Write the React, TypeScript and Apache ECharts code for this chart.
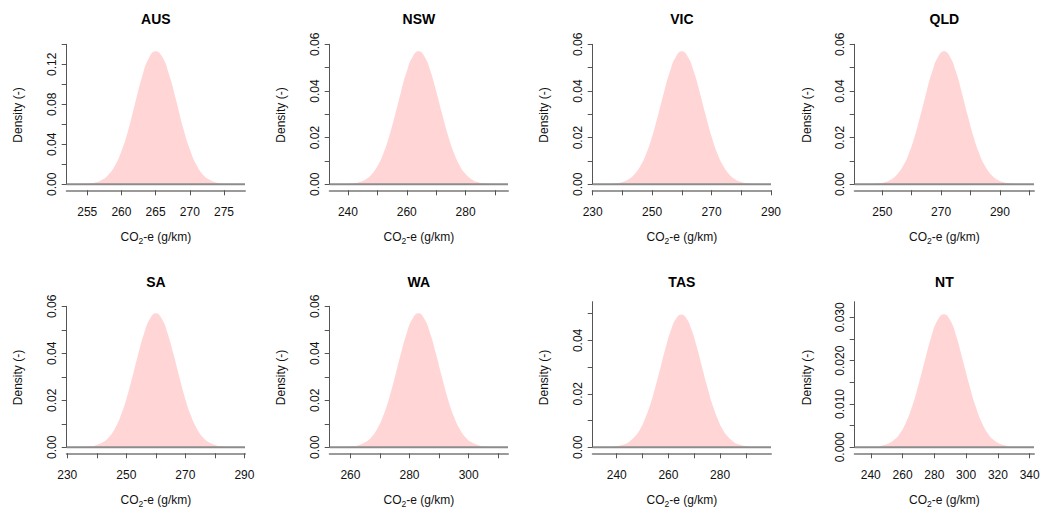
import React, { useEffect, useRef } from "react";
import * as echarts from "echarts";

// ---------- data ----------
const regions = ["AUS", "NSW", "VIC", "QLD", "SA", "WA", "TAS", "NT"];

const ausX = [252, 254, 255, 256, 257, 258, 259, 260, 261, 262, 263, 264, 265, 266, 267, 268, 269, 270, 271, 272, 273, 274, 275, 276, 278];
const ausY = [0, 0.0002, 0.0005, 0.0015, 0.0038, 0.0088, 0.018, 0.033, 0.054, 0.081, 0.107, 0.126, 0.133, 0.127, 0.109, 0.084, 0.057, 0.035, 0.019, 0.009, 0.004, 0.0015, 0.0005, 0.0002, 0];

const nswX = [240, 242, 244, 246, 248, 250, 252, 254, 256, 258, 260, 262, 264, 266, 268, 270, 272, 274, 276, 278, 280, 282, 284, 286, 288];
const nswY = [0.0002, 0.0004, 0.001, 0.0021, 0.0042, 0.0077, 0.0131, 0.0205, 0.0297, 0.0395, 0.0484, 0.0547, 0.057, 0.0548, 0.0487, 0.0399, 0.0302, 0.021, 0.0135, 0.008, 0.0044, 0.0022, 0.001, 0.0004, 0.0002];

const vicX = [236, 238, 240, 242, 244, 246, 248, 250, 252, 254, 256, 258, 260, 262, 264, 266, 268, 270, 272, 274, 276, 278, 280, 282, 284];
const vicY = [0.0002, 0.0004, 0.001, 0.0021, 0.0042, 0.0077, 0.0131, 0.0205, 0.0297, 0.0395, 0.0484, 0.0547, 0.057, 0.0547, 0.0484, 0.0395, 0.0297, 0.0205, 0.0131, 0.0077, 0.0042, 0.0021, 0.001, 0.0004, 0.0002];

const qldX = [247, 249, 251, 253, 255, 257, 259, 261, 263, 265, 267, 269, 271, 273, 275, 277, 279, 281, 283, 285, 287, 289, 291, 293, 295];
const qldY = [0.0002, 0.0004, 0.001, 0.0021, 0.0042, 0.0077, 0.0131, 0.0205, 0.0297, 0.0395, 0.0484, 0.0547, 0.057, 0.0547, 0.0484, 0.0395, 0.0297, 0.0205, 0.0131, 0.0077, 0.0042, 0.0021, 0.001, 0.0004, 0.0002];

const saX = [236, 238, 240, 242, 244, 246, 248, 250, 252, 254, 256, 258, 260, 262, 264, 266, 268, 270, 272, 274, 276, 278, 280, 282, 284];
const saY = [0.0002, 0.0004, 0.001, 0.0021, 0.0042, 0.0077, 0.0131, 0.0205, 0.0297, 0.0395, 0.0484, 0.0547, 0.057, 0.0547, 0.0484, 0.0395, 0.0297, 0.0205, 0.0131, 0.0077, 0.0042, 0.0021, 0.001, 0.0004, 0.0002];

const waX = [259, 261, 263, 265, 267, 269, 271, 273, 275, 277, 279, 281, 283, 285, 287, 289, 291, 293, 295, 297, 299, 301, 303, 305, 307];
const waY = [0.0002, 0.0004, 0.001, 0.0021, 0.0042, 0.0077, 0.0131, 0.0205, 0.0297, 0.0395, 0.0484, 0.0547, 0.057, 0.0547, 0.0484, 0.0395, 0.0297, 0.0205, 0.0131, 0.0077, 0.0042, 0.0021, 0.001, 0.0004, 0.0002];

const tasX = [239, 241, 243, 245, 247, 249, 251, 253, 255, 257, 259, 261, 263, 265, 267, 269, 271, 273, 275, 277, 279, 281, 283, 285, 287, 289, 291];
const tasY = [0.0003, 0.0006, 0.0011, 0.0022, 0.004, 0.0067, 0.0108, 0.0161, 0.0228, 0.0301, 0.0375, 0.0439, 0.0482, 0.0497, 0.0482, 0.0439, 0.0375, 0.0301, 0.0228, 0.0161, 0.0108, 0.0067, 0.004, 0.0022, 0.0011, 0.0006, 0.0003];

const ntX = [246, 250, 254, 258, 262, 266, 270, 274, 278, 282, 286, 290, 294, 298, 302, 306, 310, 314, 318, 322, 326];
const ntY = [0.0003, 0.0007, 0.0015, 0.003, 0.0056, 0.0094, 0.0144, 0.02, 0.0254, 0.0293, 0.0307, 0.0293, 0.0254, 0.02, 0.0144, 0.0094, 0.0056, 0.003, 0.0015, 0.0007, 0.0003];

// axis ranges
const xMins = [252, 233.8, 230, 240.6, 229.8, 253, 230.7, 229.9];
const xMaxs = [278.07, 294.4, 290, 301.6, 290.2, 313.3, 299.7, 342.7];
const yMaxs = [0.14, 0.06, 0.06, 0.06, 0.06, 0.06, 0.0545, 0.0336];

// tick marks and tick labels
const xTicks = [
  [255, 260, 265, 270, 275],
  [240, 250, 260, 270, 280, 290],
  [230, 240, 250, 260, 270, 280, 290],
  [250, 260, 270, 280, 290, 300],
  [230, 240, 250, 260, 270, 280, 290],
  [260, 270, 280, 290, 300, 310],
  [240, 250, 260, 270, 280, 290],
  [240, 260, 280, 300, 320, 340],
];
const xLabels = [
  [255, 260, 265, 270, 275],
  [240, 260, 280],
  [230, 250, 270, 290],
  [250, 270, 290],
  [230, 250, 270, 290],
  [260, 280, 300],
  [240, 260, 280],
  [240, 260, 280, 300, 320, 340],
];
const yTicks = [
  [0, 0.02, 0.04, 0.06, 0.08, 0.1, 0.12, 0.14],
  [0, 0.01, 0.02, 0.03, 0.04, 0.05, 0.06],
  [0, 0.01, 0.02, 0.03, 0.04, 0.05, 0.06],
  [0, 0.01, 0.02, 0.03, 0.04, 0.05, 0.06],
  [0, 0.01, 0.02, 0.03, 0.04, 0.05, 0.06],
  [0, 0.01, 0.02, 0.03, 0.04, 0.05, 0.06],
  [0, 0.01, 0.02, 0.03, 0.04, 0.05],
  [0, 0.005, 0.01, 0.015, 0.02, 0.025, 0.03],
];
const yLabels = [
  [0, 0.04, 0.08, 0.12],
  [0, 0.02, 0.04, 0.06],
  [0, 0.02, 0.04, 0.06],
  [0, 0.02, 0.04, 0.06],
  [0, 0.02, 0.04, 0.06],
  [0, 0.02, 0.04, 0.06],
  [0, 0.02, 0.04],
  [0, 0.01, 0.02, 0.03],
];
const yDecimals = [2, 2, 2, 2, 2, 2, 2, 3];

const curvesX = [ausX, nswX, vicX, qldX, saX, waX, tasX, ntX];
const curvesY = [ausY, nswY, vicY, qldY, saY, waY, tasY, ntY];

const yTitle = "Density (-)";

// ---------- layout ----------
const W = 1052;
const H = 510;
const FONT = "Liberation Sans, Arial, sans-serif";
const colLeft = [66.7, 329.7, 592.7, 854.7];
const colRight = [245, 508, 771, 1034];
const rowZero = [184.3, 447.3];
const gridTops = [44.3, 44.3, 44.3, 44.3, 306.3, 306.3, 301.7, 301.7];
const titleY = [18.7, 282];
const yNameY = [115, 377.5];
const xNameY = [237, 500];

export default function App() {
  const ref = useRef<HTMLDivElement>(null);

  useEffect(() => {
    if (!ref.current) return;
    const chart = echarts.init(ref.current, null, { renderer: "svg", width: W, height: H });

    const grids: any[] = [];
    const xAxes: any[] = [];
    const yAxes: any[] = [];
    const series: any[] = [];
    const graphics: any[] = [];

    regions.forEach((name, i) => {
      const col = i % 4;
      const row = Math.floor(i / 4);
      const left = colLeft[col];
      const right = W - colRight[col];
      const top = gridTops[i];
      const bottom = H - rowZero[row];
      grids.push({ left, right, top, bottom, containLabel: false });

      xAxes.push({
        type: "value",
        gridIndex: i,
        min: xMins[i],
        max: xMaxs[i],
        offset: 6,
        axisLine: { show: true, onZero: false, lineStyle: { color: "#9a9a9a", width: 2 } },
        axisTick: { show: true, customValues: xTicks[i], length: 5, lineStyle: { color: "#555", width: 1 } },
        axisLabel: {
          customValues: xLabels[i],
          margin: 16,
          fontSize: 12,
          color: "#111",
          fontFamily: FONT,
        },
        splitLine: { show: false },
      });

      const dec = yDecimals[i];
      yAxes.push({
        type: "value",
        gridIndex: i,
        min: 0,
        max: yMaxs[i],
        axisLine: { show: true, onZero: false, lineStyle: { color: "#555", width: 1 } },
        axisTick: { show: true, customValues: yTicks[i], length: 5, lineStyle: { color: "#555", width: 1 } },
        axisLabel: {
          customValues: yLabels[i],
          rotate: 90,
          margin: 9,
          fontSize: 12,
          color: "#111",
          fontFamily: FONT,
          formatter: (v: number) => v.toFixed(dec),
        },
        splitLine: { show: false },
      });

      series.push({
        type: "line",
        xAxisIndex: i,
        yAxisIndex: i,
        data: curvesX[i].map((x, k) => [x, curvesY[i][k]]),
        smooth: 0.5,
        symbol: "none",
        showSymbol: false,
        silent: true,
        lineStyle: { width: 0, opacity: 0 },
        areaStyle: { color: "#FFD5D5", opacity: 1 },
        z: 2,
      });
      series.push({
        type: "line",
        xAxisIndex: i,
        yAxisIndex: i,
        data: [
          [xMins[i], 0],
          [xMaxs[i], 0],
        ],
        clip: false,
        symbol: "none",
        silent: true,
        lineStyle: { color: "#8c8c8c", width: 2 },
        z: 3,
      });

      const cx = (colLeft[col] + colRight[col]) / 2;
      graphics.push({
        type: "text",
        x: cx,
        y: titleY[row],
        style: {
          text: name,
          font: `bold 14px ${FONT}`,
          fill: "#000",
          align: "center",
          verticalAlign: "middle",
          textAlign: "center",
          textVerticalAlign: "middle",
        },
      });
      graphics.push({
        type: "text",
        x: col * 263 + 18.3,
        y: yNameY[row],
        rotation: Math.PI / 2,
        style: {
          text: yTitle,
          font: `12px ${FONT}`,
          fill: "#111",
          align: "center",
          verticalAlign: "middle",
          textAlign: "center",
          textVerticalAlign: "middle",
        },
      });
      graphics.push({
        type: "text",
        x: cx,
        y: xNameY[row],
        style: {
          text: "{a|CO}{b|2}{a|-e (g/km)}",
          align: "center",
          verticalAlign: "middle",
          textAlign: "center",
          textVerticalAlign: "middle",
          rich: {
            a: { fontSize: 12, fontFamily: FONT, fill: "#111", lineHeight: 16 },
            b: { fontSize: 8.5, fontFamily: FONT, fill: "#111", lineHeight: 9, verticalAlign: "bottom" },
          },
        },
      });
    });

    chart.setOption({
      animation: false,
      backgroundColor: "#ffffff",
      grid: grids,
      xAxis: xAxes,
      yAxis: yAxes,
      series,
      graphic: { elements: graphics },
    });

    return () => chart.dispose();
  }, []);

  return (
    <div
      ref={ref}
      style={{ position: "absolute", left: 0, top: 0, width: W, height: H, background: "#fff" }}
    />
  );
}
